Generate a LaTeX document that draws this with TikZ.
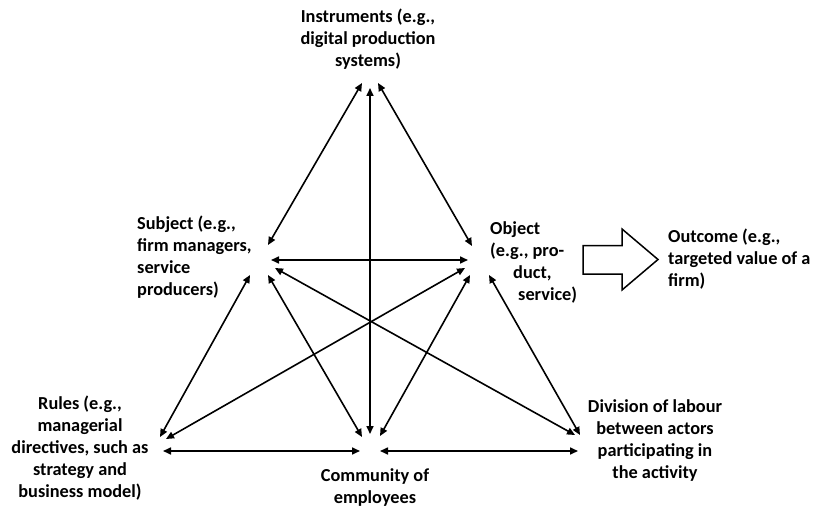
\documentclass[tikz,border=0pt]{standalone}
\usepackage{fontspec}
\setmainfont{Carlito}
\usetikzlibrary{arrows.meta}
\tikzset{
  lbl/.style={font=\fontsize{18.3}{22}\selectfont\bfseries, inner sep=0pt, text=black},
  rel/.style={{Triangle[length=8pt,width=7pt]}-{Triangle[length=8pt,width=7pt]}, line width=1.6pt},
}
\begin{document}
\begin{tikzpicture}[x=1pt,y=-1pt]
\useasboundingbox[fill=white] (0,0) rectangle (814,508);
% text nodes
\node[lbl, align=center] (instr) at (368,39) {Instruments (e.g.,\\digital production\\systems)};
\node[lbl, align=left, anchor=west] (subj) at (137,257) {Subject (e.g.,\\firm managers,\\service\\producers)};
\node[lbl, align=left, anchor=west] (obj) at (490,262) {Object\\(e.g., pro-\\\hspace*{23pt}duct,\\\hspace*{28pt}service)};
\node[lbl, align=left, anchor=west] (outc) at (668,259.5) {Outcome (e.g.,\\targeted value of a\\firm)};
\node[lbl, align=center] (rules) at (80,448) {Rules (e.g.,\\managerial\\directives, such as\\strategy and\\business model)};
\node[lbl, align=center] (comm) at (375,488) {Community of\\employees};
\node[lbl, align=center] (divi) at (655,441) {Division of labour\\between actors\\participating in\\the activity};
% endpoints
\coordinate (iL) at (362,83);
\coordinate (iM) at (370,88);
\coordinate (iR) at (378,83);
\coordinate (sT) at (268,245);
\coordinate (sH) at (271,260);
\coordinate (sR) at (250,275);
\coordinate (sC) at (268,275);
\coordinate (sD) at (275,268);
\coordinate (oT) at (472,246);
\coordinate (oH) at (468,260);
\coordinate (oR) at (465,268);
\coordinate (oC) at (470,275);
\coordinate (oD) at (489,275);
\coordinate (rS) at (160,437);
\coordinate (rO) at (166,439);
\coordinate (rH) at (163,451);
\coordinate (cS) at (362,437);
\coordinate (cM) at (370,434);
\coordinate (cO) at (380,436);
\coordinate (cL) at (360,451);
\coordinate (cR) at (380,451);
\coordinate (dS) at (575,435);
\coordinate (dO) at (580,435);
\coordinate (dH) at (578,451);
% connectors
\draw[rel] (iL) -- (sT);
\draw[rel] (iR) -- (oT);
\draw[rel] (iM) -- (cM);
\draw[rel] (sH) -- (oH);
\draw[rel] (sR) -- (rS);
\draw[rel] (sC) -- (cS);
\draw[rel] (sD) -- (dS);
\draw[rel] (oR) -- (rO);
\draw[rel] (oC) -- (cO);
\draw[rel] (oD) -- (dO);
\draw[rel] (rH) -- (cL);
\draw[rel] (cR) -- (dH);
% block arrow to outcome
\draw[line width=1.5pt, line join=miter] (583,245.5) -- (622,245.5) -- (622,229) -- (658,259.5) -- (622,290) -- (622,274) -- (583,274) -- cycle;
\end{tikzpicture}
\end{document}
